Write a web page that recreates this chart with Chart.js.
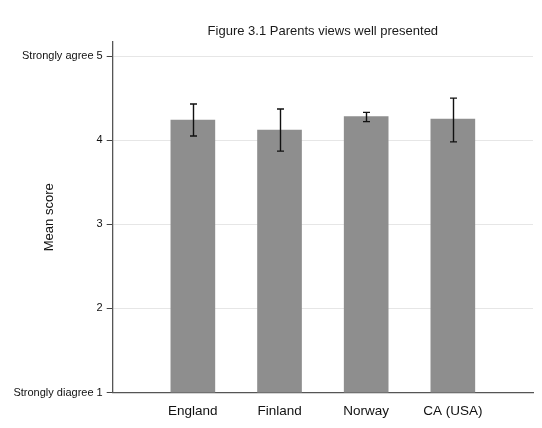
<!DOCTYPE html>
<html>
<head>
<meta charset="utf-8">
<script src="https://cdn.jsdelivr.net/npm/chart.js@4"></script>
<style>
  html, body { margin: 0; padding: 0; background: #fff; }
  #wrap { width: 542px; height: 428px; }
</style>
</head>
<body>
<div id="wrap"><canvas id="c" width="542" height="428"></canvas></div>
<script>
// Countries, mean scores and the lower/upper ends of each error bar
const countries = ['England', 'Finland', 'Norway', 'CA (USA)'];
const meanScores = [4.24, 4.12, 4.28, 4.25];
const lowerBounds = [4.05, 3.87, 4.22, 3.98];
const upperBounds = [4.43, 4.37, 4.33, 4.50];
const yTickValues = [1, 2, 3, 4, 5];
const yTickLabels = ['Strongly diagree 1', '2', '3', '4', 'Strongly agree 5'];
const chartTitle = 'Figure 3.1 Parents views well presented';
const yAxisTitle = 'Mean score';

const FONT = '"Liberation Sans", Arial, sans-serif';
const positions = countries.map((_, i) => i + 1);

// Error bars with small caps, drawn from the scale values
const errorBars = {
  id: 'errorBars',
  afterDatasetsDraw(chart) {
    const { ctx, scales: { x, y } } = chart;
    ctx.save();
    ctx.strokeStyle = '#111';
    ctx.lineWidth = 1.4;
    positions.forEach((p, i) => {
      const px = Math.round(x.getPixelForValue(p)) + 0.5;
      const top = y.getPixelForValue(upperBounds[i]);
      const bot = y.getPixelForValue(lowerBounds[i]);
      ctx.beginPath();
      ctx.moveTo(px, top); ctx.lineTo(px, bot);
      ctx.moveTo(px - 3.5, top); ctx.lineTo(px + 3.5, top);
      ctx.moveTo(px - 3.5, bot); ctx.lineTo(px + 3.5, bot);
      ctx.stroke();
    });
    ctx.restore();
  }
};

// Title centred over the plotting area
const areaTitle = {
  id: 'areaTitle',
  afterDraw(chart) {
    const { ctx, chartArea } = chart;
    ctx.save();
    ctx.font = '13px ' + FONT;
    ctx.fillStyle = '#1a1a1a';
    ctx.textAlign = 'center';
    ctx.textBaseline = 'middle';
    ctx.fillText(chartTitle, (chartArea.left + chartArea.right) / 2, 31);
    ctx.restore();
  }
};

new Chart(document.getElementById('c'), {
  type: 'bar',
  data: {
    datasets: [{
      data: positions.map((p, i) => ({ x: p, y: meanScores[i] })),
      backgroundColor: '#8e8e8e',
      borderWidth: 0,
      barThickness: 44
    }]
  },
  options: {
    responsive: false,
    animation: false,
    events: [],
    layout: { padding: { top: 42, right: 9, left: 0, bottom: 0 } },
    plugins: { legend: { display: false }, tooltip: { enabled: false }, title: { display: false } },
    scales: {
      x: {
        type: 'linear',
        offset: false,
        bounds: 'data',
        min: 0.075,
        max: 4.925,
        afterBuildTicks(scale) { scale.ticks = positions.map(v => ({ value: v })); },
        afterFit(scale) { scale.height = 35.5; },
        grid: { display: false, offset: false },
        border: { display: true, color: '#555', width: 1.3 },
        ticks: {
          autoSkip: false,
          maxRotation: 0,
          padding: 3,
          color: '#111',
          font: { family: FONT, size: 13.5 },
          callback: (v) => countries[positions.indexOf(v)] ?? ''
        }
      },
      y: {
        min: 1,
        max: 5.167,
        afterBuildTicks(scale) { scale.ticks = yTickValues.map(v => ({ value: v })); },
        afterFit(scale) { scale.width = 112.7; },
        grid: { color: '#e6e6e6', lineWidth: 1, tickColor: '#444', tickLength: 6, drawTicks: true },
        border: { display: true, color: '#555', width: 1.3 },
        ticks: {
          padding: 4,
          color: '#111',
          font: { family: FONT, size: 11 },
          callback: (v) => yTickLabels[yTickValues.indexOf(v)] ?? ''
        },
        title: {
          display: true,
          text: yAxisTitle,
          color: '#111',
          font: { family: FONT, size: 13 },
          padding: { top: 42, bottom: 0 }
        }
      }
    }
  },
  plugins: [errorBars, areaTitle]
});
</script>
</body>
</html>
